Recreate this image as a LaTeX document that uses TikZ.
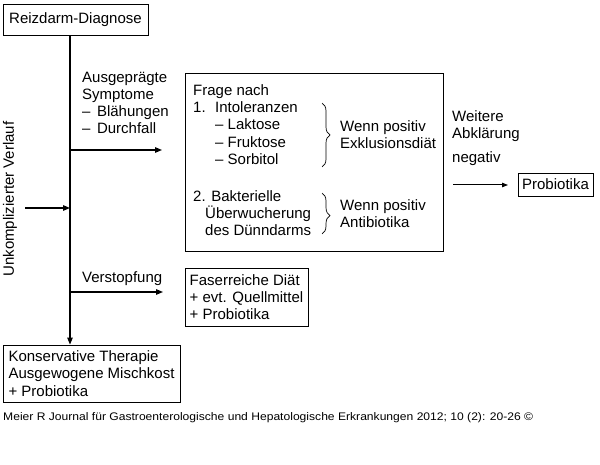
\documentclass[tikz,border=0pt]{standalone}
\usepackage{fontspec}
\setmainfont{Liberation Sans}
\usetikzlibrary{arrows.meta,decorations.pathreplacing}
\begin{document}
\begin{tikzpicture}[x=1pt,y=-1pt,
  every node/.style={font=\fontsize{15}{17.3}\selectfont, inner sep=0pt},
  box/.style={draw, line width=0.9pt, align=left},
  txt/.style={anchor=base west, align=left},
  conn/.style={line width=1.2pt, -{Triangle[length=7pt,width=5.5pt]}},
  brc/.style={decorate, line width=0.7pt, decoration={brace, amplitude=8pt}}]
\useasboundingbox (0,0) rectangle (600,465);
% boxes
\node[box, minimum width=145pt, minimum height=31pt] (rd) at (75.5,19.5) {Reizdarm-Diagnose};
\node[box, minimum width=258pt, minimum height=178pt] (fr) at (314,162) {};
\node[box, minimum width=75pt, minimum height=23pt] (pb) at (555.5,184.5) {Probiotika};
\node[box, minimum width=123pt, minimum height=58pt] (fd) at (246.5,297) {Faserreiche Diät\\+ evt. Quellmittel\\+ Probiotika};
\node[box, minimum width=177pt, minimum height=57pt] (kt) at (91.5,373.5) {Konservative Therapie\\Ausgewogene Mischkost\\+ Probiotika};
% texts (anchored at the baseline of the last line)
\node[txt] (sy) at (82,134) {Ausgeprägte\\Symptome\\–\hspace{6.5pt}Blähungen\\–\hspace{6.5pt}Durchfall};
\node[txt] (q1) at (193,164.5) {Frage nach\\1.\hspace{9.5pt}Intoleranzen\\\hspace{22pt}– Laktose\\\hspace{22pt}– Fruktose\\\hspace{22pt}– Sorbitol};
\node[txt] (q2) at (193,236) {2. Bakterielle\\\hspace{12pt}Überwucherung\\\hspace{12pt}des Dünndarms};
\node[txt] (w1) at (340,149) {Wenn positiv\\Exklusionsdiät};
\node[txt] (w2) at (340,228) {Wenn positiv\\Antibiotika};
\node[txt] (wa) at (452,139) {Weitere\\Abklärung};
\node[txt] (ng) at (452,163) {negativ};
\node[txt] (vs) at (82,282.5) {Verstopfung};
\node[rotate=90] (uv) at (10,199) {Unkomplizierter Verlauf};
\node[anchor=base west, font=\fontsize{11}{13}\selectfont] (cap) at (3,420) {\scalebox{1.1}[1]{Meier R Journal für Gastroenterologische und Hepatologische Erkrankungen 2012; 10 (2): 20-26 ©}};
% braces
\draw[brc] (322,103) -- (322,167);
\draw[brc, decoration={aspect=0.55}] (322,193) -- (322,234);
% connectors
\coordinate (trunk) at (70,0);
\coordinate (b1) at (70,150);
\coordinate (e1) at (162,150);
\coordinate (b2) at (70,292);
\coordinate (e2) at (163,292);
\coordinate (l0) at (25,208);
\coordinate (l1) at (70,208);
\coordinate (n0) at (453,185);
\coordinate (n1) at (508,185);
\draw[conn] (rd.south -| trunk) -- (kt.north -| trunk);
\draw[conn] (b1) -- (e1);
\draw[conn] (b2) -- (e2);
\draw[conn] (l0) -- (l1);
\draw[line width=1pt, -{Triangle[length=6pt,width=4.5pt]}] (n0) -- (n1);
\end{tikzpicture}
\end{document}
